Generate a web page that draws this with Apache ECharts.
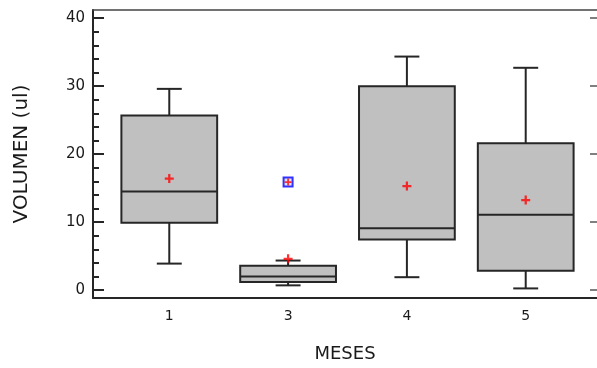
<!DOCTYPE html>
<html>
<head>
<meta charset="utf-8">
<script src="https://cdn.jsdelivr.net/npm/echarts@6/dist/echarts.min.js"></script>
<style>
html,body{margin:0;padding:0;background:#fff;}
#chart{width:597px;height:368px;}
</style>
</head>
<body>
<div id="chart"></div>
<script>
// ---- data ----
const categories = ['1', '3', '4', '5'];
const whiskerLow  = [3.9, 0.7, 1.9, 0.25];
const q1          = [9.9, 1.2, 7.45, 2.86];
const median      = [14.5, 2.0, 9.1, 11.1];
const q3          = [25.7, 3.6, 30.0, 21.6];
const whiskerHigh = [29.6, 4.35, 34.35, 32.7];
const means       = [16.4, 4.6, 15.3, 13.25];
const outlierCategory = [1];
const outlierValue    = [15.9];
const yMajorTicks = [0, 10, 20, 30, 40];
const yMinorTicks = [2, 4, 6, 8, 12, 14, 16, 18, 22, 24, 26, 28, 32, 34, 36, 38];

// ---- build ----
const boxData = categories.map((c, i) => [i, whiskerLow[i], q1[i], median[i], q3[i], whiskerHigh[i]]);
const meanData = categories.map((c, i) => [i, means[i]]);
const outlierData = outlierCategory.map((c, i) => [c, outlierValue[i]]);

const X_MIN = -0.642, X_MAX = 3.600;
const Y_MIN = -1.16, Y_MAX = 41.2;
const BOX_W = 0.806, CAP_W = 0.21;
const STROKE = '#262626';
const plusPath = 'path://M3,0H5V3H8V5H5V8H3V5H0V3H3Z';

const chart = echarts.init(document.getElementById('chart'), null, {renderer: 'canvas'});
const font = 'DejaVu Sans';

chart.setOption({
  animation: false,
  backgroundColor: '#fff',
  grid: {left: 93, right: -5, top: 10, bottom: 66, containLabel: false},
  xAxis: [{
    type: 'value', min: X_MIN, max: X_MAX, position: 'bottom',
    axisLine: {show: true, onZero: false, lineStyle: {color: STROKE, width: 2}},
    axisTick: {show: false},
    splitLine: {show: false},
    axisLabel: {
      customValues: categories.map((c, i) => i),
      formatter: v => categories[Math.round(v)],
      fontFamily: font, fontSize: 14, color: '#1a1a1a', margin: 11
    },
    name: 'MESES', nameLocation: 'middle', nameGap: 47,
    nameTextStyle: {fontFamily: font, fontSize: 18, color: '#1a1a1a'}
  }, {
    type: 'value', min: X_MIN, max: X_MAX, position: 'top',
    axisLine: {show: true, onZero: false, lineStyle: {color: '#444', width: 1.5}},
    axisTick: {show: false}, axisLabel: {show: false}, splitLine: {show: false}
  }],
  yAxis: [{
    type: 'value', min: Y_MIN, max: Y_MAX, position: 'left',
    axisLine: {show: true, onZero: false, lineStyle: {color: STROKE, width: 2}},
    axisTick: {show: true, inside: true, length: 11, customValues: yMajorTicks, lineStyle: {color: STROKE, width: 2}},
    axisLabel: {customValues: yMajorTicks, fontFamily: font, fontSize: 15, color: '#1a1a1a', margin: 8},
    splitLine: {show: false},
    name: 'VOLUMEN (ul)', nameLocation: 'middle', nameGap: 61, nameRotate: 90,
    nameTextStyle: {fontFamily: font, fontSize: 20, color: '#1a1a1a'}
  }, {
    type: 'value', min: Y_MIN, max: Y_MAX, position: 'left', offset: 0,
    axisLine: {show: false, onZero: false},
    axisTick: {show: true, inside: true, length: 6, customValues: yMinorTicks, lineStyle: {color: STROKE, width: 2}},
    axisLabel: {show: false}, splitLine: {show: false}
  }, {
    type: 'value', min: Y_MIN, max: Y_MAX, position: 'right',
    axisLine: {show: false, onZero: false},
    axisTick: {show: true, inside: true, length: 7, customValues: yMajorTicks, lineStyle: {color: '#555', width: 1.5}},
    axisLabel: {show: false}, splitLine: {show: false}
  }],
  series: [{
    type: 'custom',
    xAxisIndex: 0, yAxisIndex: 0,
    data: boxData,
    encode: {x: 0, y: [1, 2, 3, 4, 5]},
    renderItem: function (params, api) {
      const x = api.value(0);
      const pLow = api.coord([x, api.value(1)]);
      const pQ1 = api.coord([x, api.value(2)]);
      const pMed = api.coord([x, api.value(3)]);
      const pQ3 = api.coord([x, api.value(4)]);
      const pHigh = api.coord([x, api.value(5)]);
      const hw = api.size([BOX_W, 0])[0] / 2;
      const cw = api.size([CAP_W, 0])[0] / 2;
      const cx = pMed[0];
      const ls = {stroke: STROKE, lineWidth: 2, fill: null};
      return {
        type: 'group',
        children: [
          {type: 'line', shape: {x1: cx, y1: pHigh[1], x2: cx, y2: pQ3[1]}, style: ls},
          {type: 'line', shape: {x1: cx, y1: pQ1[1], x2: cx, y2: pLow[1]}, style: ls},
          {type: 'line', shape: {x1: cx - cw, y1: pHigh[1], x2: cx + cw, y2: pHigh[1]}, style: ls},
          {type: 'line', shape: {x1: cx - cw, y1: pLow[1], x2: cx + cw, y2: pLow[1]}, style: ls},
          {type: 'rect', shape: {x: cx - hw, y: pQ3[1], width: 2 * hw, height: pQ1[1] - pQ3[1]},
            style: {fill: '#c0c0c0', stroke: STROKE, lineWidth: 2}},
          {type: 'line', shape: {x1: cx - hw, y1: pMed[1], x2: cx + hw, y2: pMed[1]}, style: ls}
        ]
      };
    },
    z: 2
  }, {
    type: 'scatter', xAxisIndex: 0, yAxisIndex: 0,
    data: meanData, symbol: plusPath, symbolSize: 9,
    itemStyle: {color: '#ff0000'}, z: 5
  }, {
    type: 'scatter', xAxisIndex: 0, yAxisIndex: 0,
    data: outlierData, symbol: 'rect', symbolSize: 9,
    itemStyle: {color: '#d8d8ff', borderColor: '#0000ff', borderWidth: 2}, z: 5
  }, {
    type: 'scatter', xAxisIndex: 0, yAxisIndex: 0,
    data: outlierData, symbol: plusPath, symbolSize: 7,
    itemStyle: {color: '#ff0000'}, z: 6
  }]
});
</script>
</body>
</html>
